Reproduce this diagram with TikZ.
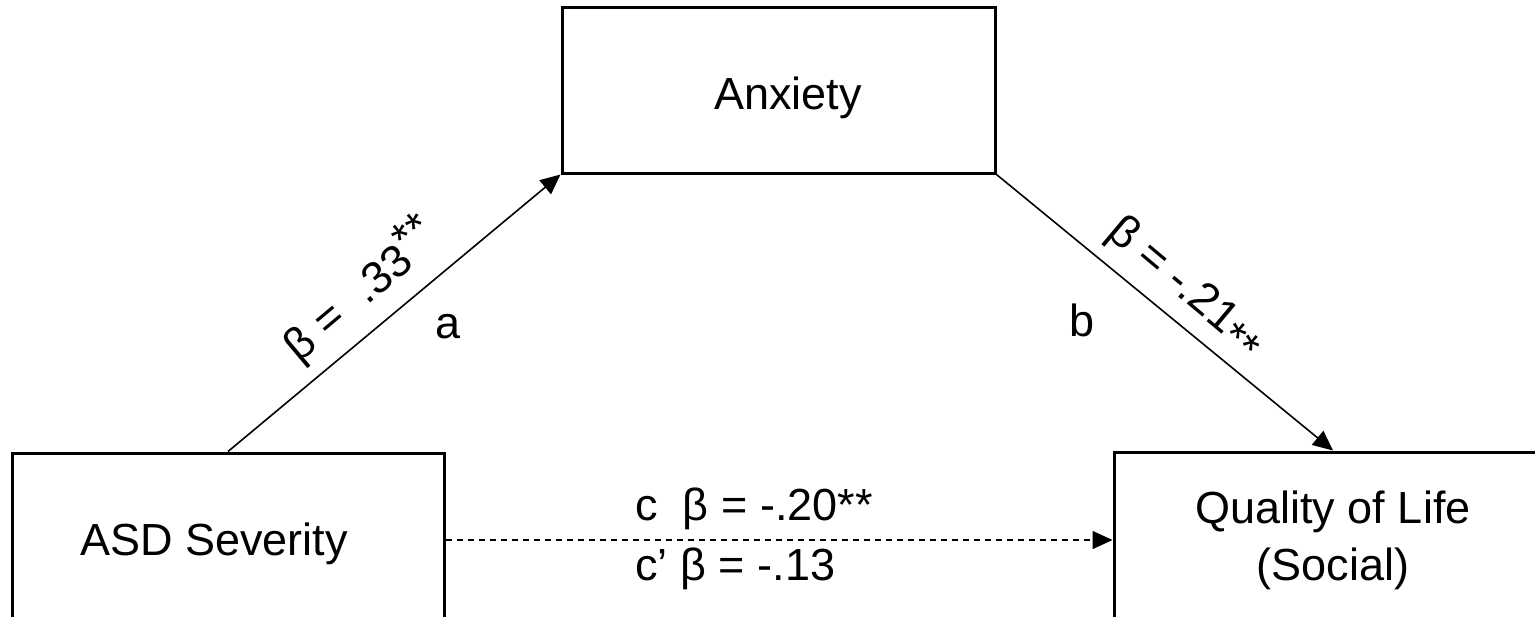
\documentclass[tikz,border=0pt]{standalone}
\usepackage{fontspec}
\setmainfont{Liberation Sans}
\usetikzlibrary{arrows.meta}
\tikzset{
  boxnode/.style={draw=black, line width=1.5pt, fill=none, inner sep=0pt, shape=rectangle},
  txt/.style={inner sep=0pt, font=\fontsize{22.5}{28.5}\selectfont},
  conn/.style={line width=0.8pt, -{Triangle[length=10pt,width=9pt]}},
  dashconn/.style={conn, dash pattern=on 3pt off 2.5pt},
}
\begin{document}
\begin{tikzpicture}[x=0.5pt,y=-0.5pt]
\useasboundingbox (0,0) rectangle (1535,616);
\clip (0,0) rectangle (1535,616);
% boxes
\node[boxnode, minimum width=216.5pt, minimum height=83pt] (anx) at (778.5,90) {};
\node[boxnode, minimum width=216pt, minimum height=87pt] (asd) at (228,540) {};
\node[boxnode, minimum width=219pt, minimum height=85pt] (qol) at (1333,537) {};
% box texts
\node[txt, anchor=base] (anxt) at (788,109) {Anxiety};
\node[txt, anchor=base] (asdt) at (214,555) {ASD Severity};
\node[txt, align=center] (qolt) at (1333,540) {Quality of Life\\(Social)};
% connectors
\draw[conn] (asd.north) -- (anx.south west);
\draw[conn] (anx.south east) -- (qol.north);
\draw[dashconn] (asd.east) -- (qol.west |- asd.east);
% path labels
\node[txt, rotate=40] (la) at (360,290) {β = \ .33\raisebox{0.28em}{**}};
\node[txt] (a) at (448,327) {a};
\node[txt, rotate=-40] (lb) at (1185,288) {β = -.21\raisebox{-0.22em}{**}};
\node[txt] (b) at (1082,320) {b};
\node[txt, anchor=base west] (lc) at (635,520) {c \ β = -.20**};
\node[txt, anchor=base west] (lcp) at (635,580) {c’ β = -.13};
\end{tikzpicture}
\end{document}
